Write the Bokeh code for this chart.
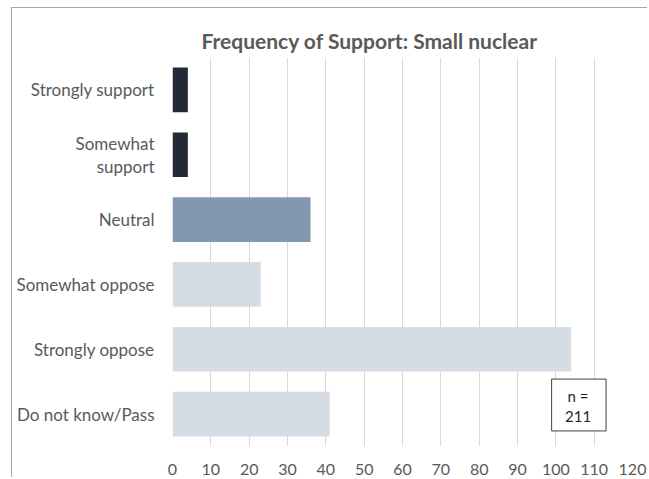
from bokeh.plotting import figure
from bokeh.models import FixedTicker, Range1d, Title
from bokeh.core.properties import value
from bokeh.embed import file_html
from bokeh.resources import INLINE

# ---- data ----
categories = ["Strongly support", "Somewhat\nsupport", "Neutral",
              "Somewhat oppose", "Strongly oppose", "Do not know/Pass"]
counts = [4, 4, 36, 23, 104, 41]
bar_colors = ["#222A35", "#222A35", "#8497B0", "#D6DCE4", "#D6DCE4", "#D6DCE4"]
x_ticks = [0, 10, 20, 30, 40, 50, 60, 70, 80, 90, 100, 110, 120]
n_total = 211
title_text = "Frequency of Support: Small nuclear"

FONT = "Lato"
TXT = "#595959"

ypos = list(range(len(categories)))[::-1]  # first category at top

p = figure(width=647, height=477, output_backend="svg", toolbar_location=None,
           x_range=Range1d(0, 120), y_range=Range1d(-0.5, len(categories) - 0.5),
           min_border_left=172, min_border_right=15, min_border_top=57,
           min_border_bottom=30)
p.styles = {
    "background": ("linear-gradient(#A6A6A6,#A6A6A6) 11px 7px / 1px 100% no-repeat, "
                   "linear-gradient(#A6A6A6,#A6A6A6) 11px 7px / 100% 1px no-repeat, white"),
}
p.border_fill_color = None
p.outline_line_color = None
p.background_fill_color = "white"

t = Title(text=title_text, align="left", offset=29, text_font=FONT,
          text_font_size="21px", text_font_style="bold", text_color=TXT,
          standoff=9)
p.add_layout(t, "above")

p.hbar(y=ypos, right=counts, left=0, height=0.69, color=bar_colors,
       line_color=None)

# n box
p.quad(left=[98.9], right=[113.1], bottom=[-0.26], top=[0.54],
       fill_color="white", line_color="#404040", line_width=1)
p.text(x=[105.8, 105.8], y=[0.28, -0.03], text=["n =", str(n_total)],
       text_align="center", text_baseline="middle",
       text_font=value(FONT), text_font_size="15px", text_color="#262626")

# axes
p.xaxis.ticker = FixedTicker(ticks=x_ticks)
p.xaxis.axis_line_color = None
p.xaxis.major_tick_line_color = None
p.xaxis.minor_tick_line_color = None
p.xaxis.major_label_text_font = FONT
p.xaxis.major_label_text_font_size = "16px"
p.xaxis.major_label_text_color = TXT
p.xaxis.major_label_standoff = 11

p.yaxis.ticker = FixedTicker(ticks=ypos)
p.yaxis.major_label_overrides = {y: c for y, c in zip(ypos, categories)}
p.yaxis.axis_line_color = None
p.yaxis.major_tick_line_color = None
p.yaxis.minor_tick_line_color = None
p.yaxis.major_label_text_font = FONT
p.yaxis.major_label_text_font_size = "17px"
p.yaxis.major_label_text_color = TXT
p.yaxis.major_label_text_line_height = 1.1
p.yaxis.major_label_standoff = 12

p.xgrid.grid_line_color = "#D9D9D9"
p.xgrid.ticker = FixedTicker(ticks=x_ticks)
p.ygrid.grid_line_color = None

open("out.html", "w").write(file_html(p, INLINE))
